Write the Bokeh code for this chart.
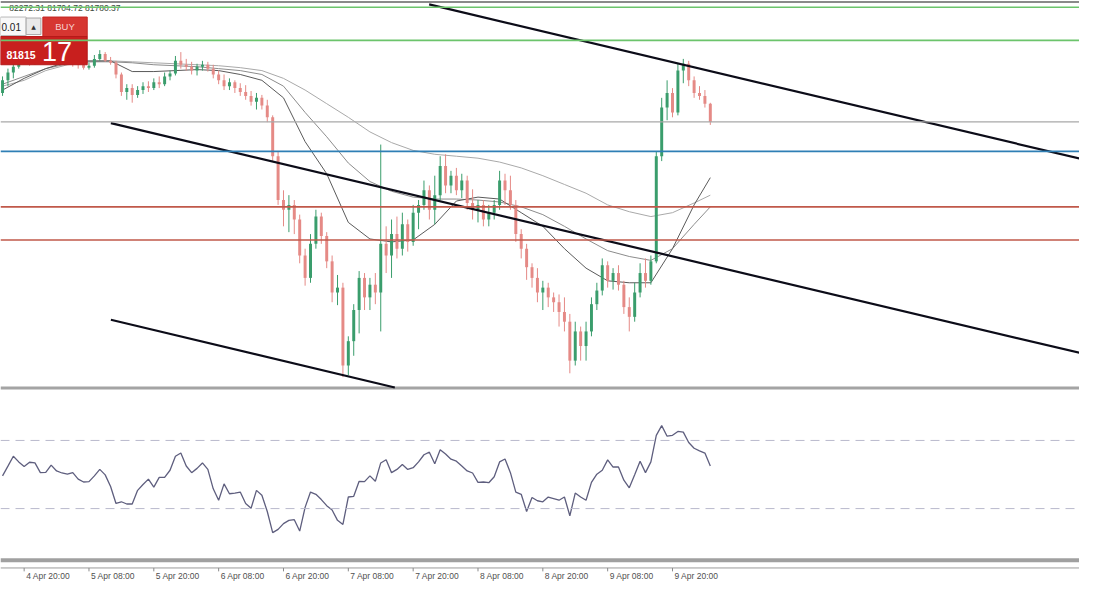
from bokeh.plotting import figure
from bokeh.models import Range1d, Span
from bokeh.embed import file_html
from bokeh.resources import INLINE
from bokeh.core.properties import value

# ---------------- data (hourly candles, hour 0 = 4 Apr 20:00) ----------------
hours = list(range(-4, 128))
opens = [82525, 82850, 83050, 83200,
         83350, 83400, 83300, 83450, 83375, 83475, 83400, 83350, 83425, 83325, 83275, 83250, 83175, 83225, 83400, 83525,
         83350, 83300, 83000, 82550, 82650, 82475, 82600, 82700, 82650, 82800, 82750, 82950, 83025, 83350, 83250, 83200,
         83100, 83200, 83250, 83150, 83000, 82850, 82700, 82800, 82650, 82550, 82450, 82300, 82400, 82200, 81900, 80900,
         79775, 79525, 79650, 79275, 78350, 77775, 78650, 79350, 78850, 78200, 77400, 77525, 75525, 76150, 76950, 77775,
         77275, 77600, 77400, 78650, 78350, 78900, 78525, 79150, 78700, 79450, 79650, 80025, 79525, 79900, 80650, 80150,
         80400, 80025, 80275, 79700, 79525, 79650, 79275, 79450, 79650, 80275, 80025, 79650, 78900, 78525, 78050, 77775,
         77400, 77525, 77275, 77150, 76900, 76650, 75650, 76400, 76025, 76400, 77100, 77450, 78100, 77700, 77900, 77600,
         77025, 76775, 77400, 77900, 77700, 78200, 80900, 82150, 82525, 82025, 83100, 83275, 82850, 82525, 82450, 82250]
highs = [82950, 83150, 83325, 83450,
         83525, 83475, 83550, 83525, 83600, 83550, 83475, 83500, 83475, 83400, 83350, 83300, 83300, 83500, 83625, 83575,
         83450, 83350, 83050, 82750, 82750, 82700, 82800, 82825, 82900, 82950, 83050, 83100, 83475, 83575, 83400, 83325,
         83275, 83350, 83325, 83250, 83100, 83000, 82900, 82850, 82775, 82725, 82575, 82525, 82475, 82350, 81950, 81025,
         80025, 79900, 79775, 79400, 78525, 78900, 79525, 79450, 78950, 78350, 77850, 77650, 76275, 77100, 77950, 77900,
         77775, 77900, 81200, 79100, 79275, 79350, 79450, 79275, 79650, 79775, 80275, 80150, 80400, 80900, 80950, 80525,
         80600, 80450, 80400, 80050, 79775, 79775, 79650, 79775, 80525, 80450, 80400, 79775, 79025, 78650, 78150, 78025,
         77700, 77650, 77400, 77350, 77275, 76850, 76650, 76525, 76650, 77275, 77650, 78275, 78200, 78025, 78100, 77700,
         77275, 77650, 78150, 78275, 78350, 81025, 82400, 82850, 82650, 83275, 83400, 83350, 82950, 82700, 82600, 82272.31]
lows = [82450, 82700, 82900, 83150,
        83275, 83225, 83250, 83300, 83325, 83300, 83250, 83275, 83250, 83200, 83150, 83125, 83125, 83175, 83350, 83325,
        83250, 82900, 82450, 82350, 82275, 82400, 82500, 82550, 82600, 82650, 82700, 82850, 82975, 83150, 83100, 83000,
        82975, 83100, 83075, 82900, 82750, 82600, 82600, 82525, 82450, 82350, 82200, 82100, 82100, 81775, 80775, 79650,
        79100, 78950, 78900, 78150, 77575, 77650, 78525, 78650, 78025, 77150, 77075, 75225, 75275, 75775, 76350, 76950,
        76950, 77100, 76400, 77900, 77775, 78275, 78350, 78450, 78600, 79025, 79525, 79275, 79150, 79775, 79950, 79950,
        79900, 79825, 79525, 79275, 79200, 79100, 79100, 79275, 79525, 79650, 79525, 78700, 78275, 77725, 77525, 77150,
        76950, 77025, 76900, 76525, 76400, 75325, 75525, 75650, 75650, 76275, 76950, 77325, 77525, 77475, 77450, 76850,
        76400, 76650, 77275, 77525, 77600, 78150, 80775, 81825, 81900, 81950, 82775, 82700, 82400, 82350, 82150, 81704.72]
closes = [82850, 83050, 83200, 83350,
          83400, 83300, 83450, 83375, 83475, 83400, 83350, 83425, 83325, 83275, 83250, 83175, 83225, 83400, 83525, 83350,
          83300, 83000, 82550, 82650, 82475, 82600, 82700, 82650, 82800, 82750, 82950, 83025, 83350, 83250, 83200, 83100,
          83200, 83250, 83150, 83000, 82850, 82700, 82800, 82650, 82550, 82450, 82300, 82400, 82200, 81900, 80900, 79775,
          79525, 79650, 79275, 78350, 77775, 78650, 79350, 78850, 78200, 77400, 77525, 75525, 76150, 76950, 77775, 77275,
          77600, 77400, 78650, 78350, 78900, 78525, 79150, 78700, 79450, 79650, 80025, 79525, 79900, 80650, 80150, 80400,
          80025, 80275, 79700, 79525, 79650, 79275, 79450, 79650, 80275, 80025, 79650, 78900, 78525, 78050, 77775, 77400,
          77525, 77275, 77150, 76900, 76650, 75650, 76400, 76025, 76400, 77100, 77450, 78100, 77700, 77900, 77600, 77025,
          76775, 77400, 77900, 77700, 78200, 80900, 82150, 82525, 82025, 83100, 83275, 82850, 82525, 82450, 82250, 81780.37]

# moving averages, read every 4 hours
ma_hours = [-4, 0, 4, 8, 12, 16, 20, 24, 28, 32, 36, 40, 44, 48, 52, 56, 60, 64, 68, 72, 76, 80, 84, 88, 92, 96,
            100, 104, 108, 112, 116, 120, 124, 127]
ma_fast = [82600, 82900, 83150, 83325, 83350, 83350, 83075, 83075, 83100, 83125, 83100, 83000, 82850, 82400, 81275,
           80450, 79200, 78775, 78700, 78750, 79150, 79750, 79850, 79800, 79450, 79100, 78525, 78025, 77700, 77650,
           77650, 78525, 79650, 80350]
ma_mid = [82750, 82950, 83150, 83275, 83325, 83325, 83300, 83250, 83225, 83200, 83150, 83100, 83000, 82700, 82025,
          81400, 80725, 80250, 80000, 79850, 79800, 79800, 79775, 79725, 79600, 79400, 79100, 78775, 78475, 78325,
          78225, 78525, 79150, 79600]
ma_slow = [82700, 82850, 83100, 83250, 83325, 83350, 83325, 83300, 83275, 83250, 83225, 83175, 83100, 82900, 82600,
           82250, 81900, 81525, 81250, 81050, 80950, 80900, 80850, 80750, 80600, 80400, 80175, 79950, 79650, 79475,
           79350, 79450, 79700, 79900]

rsi = [49.2, 54.9, 60.7, 57.4,
       54.7, 57.2, 56.8, 51.1, 51.3, 55.5, 52.1, 50.9, 50.2, 51.1, 47.3, 45.6, 45.8, 49.2, 53.0, 49.8,
       43.0, 33.0, 34.0, 32.7, 32.7, 40.7, 44.1, 47.3, 42.6, 48.3, 48.3, 52.5, 60.7, 62.6, 55.0, 51.1,
       53.6, 56.8, 53.0, 41.6, 34.9, 44.5, 38.7, 39.1, 39.7, 33.0, 30.2, 40.7, 37.8, 28.3, 15.9, 17.8,
       21.2, 23.1, 23.5, 16.8, 30.7, 39.7, 38.4, 35.3, 31.7, 29.2, 23.1, 20.7, 36.8, 37.2, 46.0, 45.8,
       49.2, 46.0, 56.8, 58.7, 51.1, 53.0, 55.9, 53.0, 54.0, 57.4, 61.6, 63.1, 56.3, 64.5, 62.0, 59.0,
       57.8, 55.0, 52.1, 50.9, 45.4, 45.6, 45.2, 48.7, 57.4, 59.1, 51.1, 39.7, 38.4, 28.3, 36.5, 34.6,
       34.0, 36.8, 35.9, 34.9, 36.8, 25.8, 39.1, 36.8, 34.9, 45.4, 50.2, 52.5, 58.6, 54.4, 54.4, 46.7,
       42.2, 49.8, 57.8, 51.1, 57.4, 73.0, 78.7, 72.5, 73.0, 75.3, 74.9, 68.8, 65.4, 63.9, 62.6, 55.0]
rsi_levels = [70, 30]

green_levels = [84725, 83875]
blue_level = 81025
red_levels = [79600, 78750]
ask_price = 81815.17
lot_size = "0.01"

# trend channel lines: (hour, price) endpoints
trend_x0 = [74.96, 16.05, 16.05]
trend_y0 = [84800, 81750, 76700]
trend_x1 = [195.33, 195.33, 68.6]
trend_y1 = [80840, 75850, 74960]

tick_hours = [0, 12, 24, 36, 48, 60, 72, 84, 96, 108, 120]
tick_labels = ["4 Apr 20:00", "5 Apr 08:00", "5 Apr 20:00", "6 Apr 08:00", "6 Apr 20:00", "7 Apr 08:00",
               "7 Apr 20:00", "8 Apr 08:00", "8 Apr 20:00", "9 Apr 08:00", "9 Apr 20:00"]

# ---------------- figure ----------------
FONT = value("Liberation Sans")
p = figure(width=1079, height=584, x_range=Range1d(-4.377, 195.33), y_range=Range1d(69900, 84900),
           output_backend="svg", toolbar_location=None, min_border=0, outline_line_color=None,
           x_axis_location=None, y_axis_location=None, background_fill_color="white")
p.grid.visible = False
p.extra_x_ranges = {"px": Range1d(0, 1095)}
p.extra_y_ranges = {"px": Range1d(600, 0), "rsi": Range1d(-14.57, 328.29)}

# chart frame lines
p.segment(x0=0, x1=1095, y0=1.5, y1=1.5, x_range_name="px", y_range_name="px", line_color="#8a8a8a", line_width=2)
p.segment(x0=0, x1=1095, y0=398, y1=398, x_range_name="px", y_range_name="px", line_color="#a4a4a4", line_width=3)
p.segment(x0=0, x1=1095, y0=575, y1=575, x_range_name="px", y_range_name="px", line_color="#a0a0a0", line_width=4)

# horizontal levels
for lv in green_levels:
    p.add_layout(Span(location=lv, dimension="width", line_color="#6cc46c", line_width=1.6))
p.add_layout(Span(location=closes[-1], dimension="width", line_color="#a8a8a8", line_width=1.2))
p.add_layout(Span(location=blue_level, dimension="width", line_color="#2f7fb5", line_width=1.8))
for lv in red_levels:
    p.add_layout(Span(location=lv, dimension="width", line_color="#c0584a", line_width=1.6))

# moving averages
p.line(ma_hours, ma_slow, line_color="#a9a9a9", line_width=1)
p.line(ma_hours, ma_mid, line_color="#8c8c8c", line_width=1)
p.line(ma_hours, ma_fast, line_color="#5a5a5a", line_width=1)

# candles
cols = ["#3a9d6c" if c >= o else "#e58a86" for o, c in zip(opens, closes)]
tops = [max(o, c) for o, c in zip(opens, closes)]
bots = [min(o, c) for o, c in zip(opens, closes)]
p.segment(x0=hours, x1=hours, y0=lows, y1=highs, line_color=cols, line_width=1)
p.vbar(x=hours, width=0.55, top=tops, bottom=bots, fill_color=cols, line_color=None)

# trend channel
p.segment(x0=trend_x0, y0=trend_y0, x1=trend_x1, y1=trend_y1, line_color="#0c0c18", line_width=2.2)

# RSI panel
for lv in rsi_levels:
    p.add_layout(Span(location=lv, dimension="width", y_range_name="rsi", line_color="#b9b9cc",
                      line_width=1, line_dash="9 6"))
p.line(hours, rsi, y_range_name="rsi", line_color="#5e5e7e", line_width=1.3)

# time axis
p.segment(x0=0, x1=1095, y0=583, y1=583, x_range_name="px", y_range_name="px", line_color="#9a9a9a", line_width=1)
p.segment(x0=tick_hours, x1=tick_hours, y0=583, y1=586.5, y_range_name="px", line_color="#8a8a8a", line_width=1)
p.text(x=tick_hours, y=[591.5] * len(tick_hours), text=tick_labels, y_range_name="px", x_offset=2,
       text_font=FONT, text_font_size="8.5px", text_color="#505050", text_align="left", text_baseline="middle")

# header with the last bar's H/L/C
hdr = f"{highs[-1]:.2f} {lows[-1]:.2f} {closes[-1]:.2f}"
p.text(x=[9], y=[8], text=[hdr], x_range_name="px", y_range_name="px", text_font=FONT,
       text_font_size="8.5px", text_color="#3c4a3c", text_align="left", text_baseline="middle")

# one-click trading panel
p.quad(left=[0], right=[26], top=[17], bottom=[36], x_range_name="px", y_range_name="px",
       fill_color="#f8f8f8", line_color="#b8b8b8", line_width=1)
p.quad(left=[26], right=[41], top=[18], bottom=[35], x_range_name="px", y_range_name="px",
       fill_color="#e9e9e9", line_color="#a8a8a8", line_width=1)
p.quad(left=[43], right=[88], top=[17], bottom=[37], x_range_name="px", y_range_name="px",
       fill_color="#d63631", line_color="#c42622", line_width=1)
p.quad(left=[0], right=[88], top=[37], bottom=[66], x_range_name="px", y_range_name="px",
       fill_color="#c81f1e", line_color="#b51a19", line_width=1)
p.text(x=[1], y=[27], text=[lot_size], x_range_name="px", y_range_name="px", text_font=FONT,
       text_font_size="10px", text_color="#222222", text_align="left", text_baseline="middle")
p.text(x=[33.5], y=[26.5], text=["\u25b2"], x_range_name="px", y_range_name="px", text_font=value("DejaVu Sans"),
       text_font_size="6px", text_color="#333333", text_align="center", text_baseline="middle")
p.text(x=[65.5], y=[27], text=["BUY"], x_range_name="px", y_range_name="px", text_font=FONT,
       text_font_size="9.5px", text_color="#f7d2d0", text_align="center", text_baseline="middle")
ask_main, ask_frac = f"{ask_price:.2f}".split(".")
p.text(x=[6], y=[56], text=[ask_main], x_range_name="px", y_range_name="px", text_font=FONT,
       text_font_size="10.5px", text_font_style="bold", text_color="#ffffff", text_align="left",
       text_baseline="middle")
p.text(x=[42], y=[52], text=[ask_frac], x_range_name="px", y_range_name="px", text_font=FONT,
       text_font_size="27px", text_color="#ffffff", text_align="left", text_baseline="middle")

open("out.html", "w").write(file_html(p, INLINE))
